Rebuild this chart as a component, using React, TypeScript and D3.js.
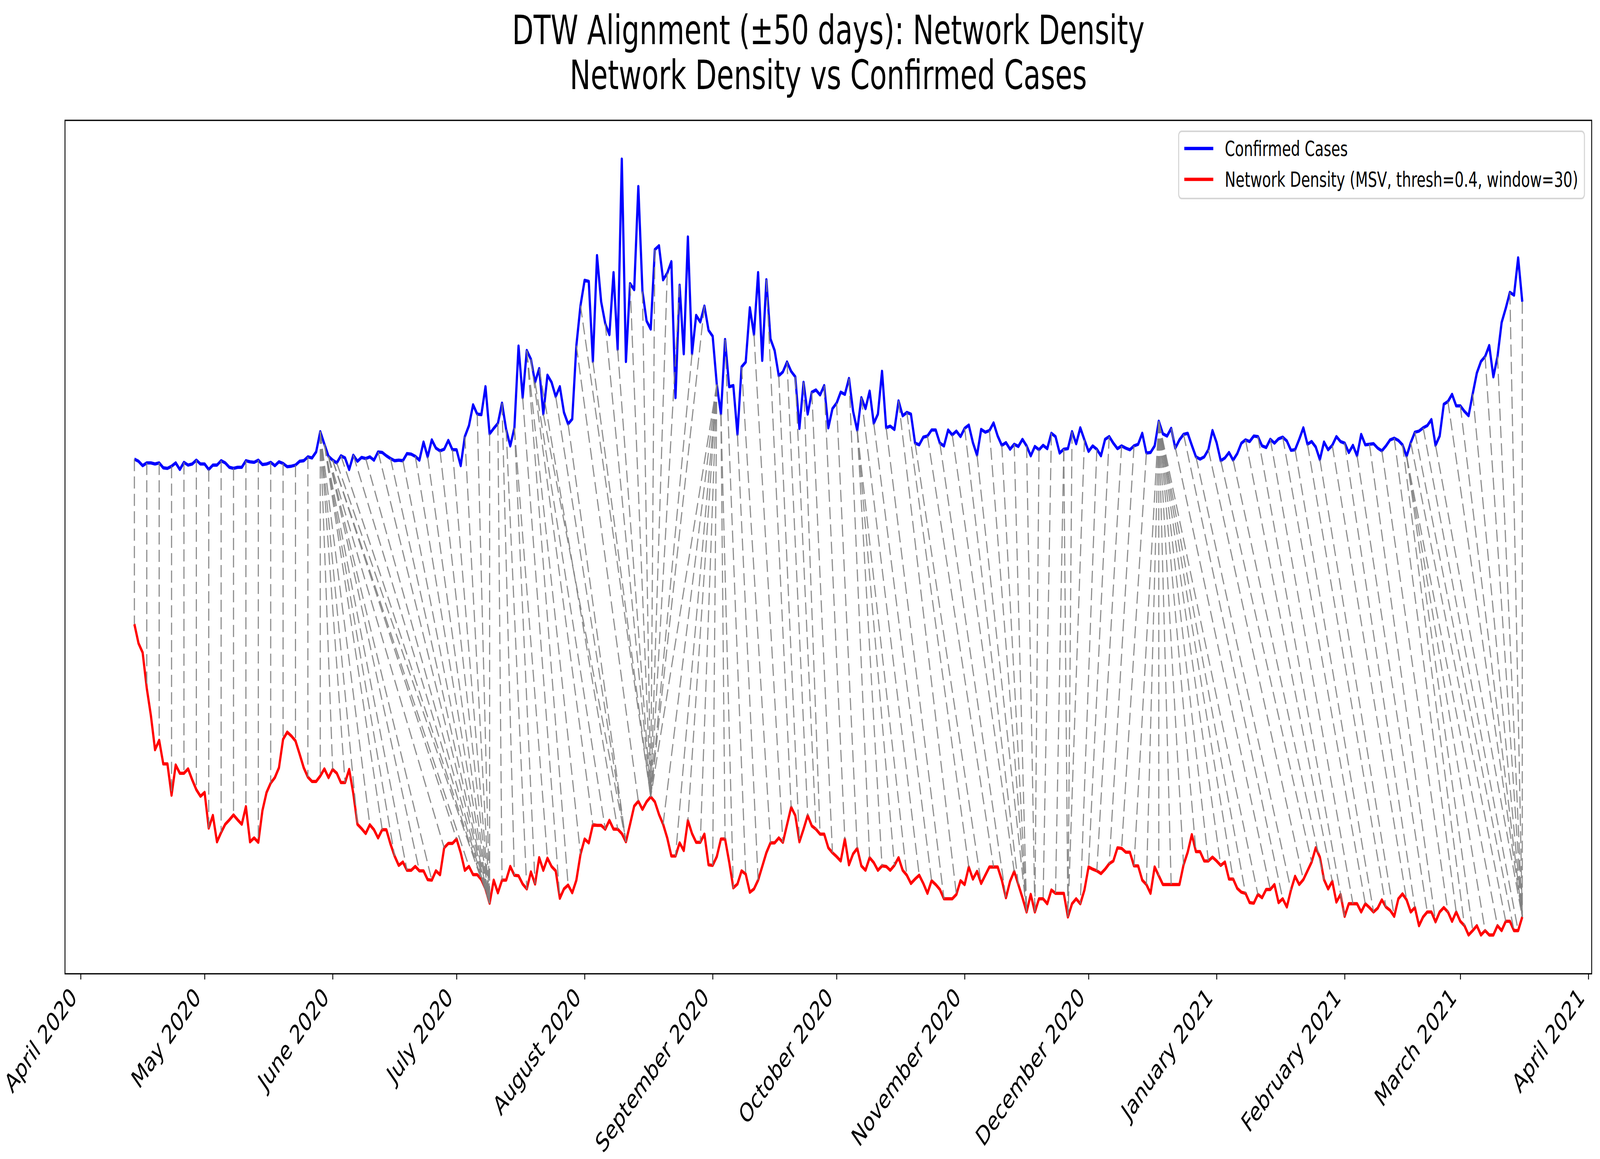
import React, { useEffect, useRef } from "react";
import * as d3 from "d3";

// Daily values (scaled units), 14 Apr 2020 .. 16 Mar 2021
const START_DATE = "2020-04-14";

const confirmedCases = [
    8.98, 8.94, 8.86, 8.91, 8.91, 8.89, 8.91, 8.82, 8.81, 8.85,
    8.91, 8.79, 8.92, 8.87, 8.89, 8.96, 8.89, 8.89, 8.79, 8.87,
    8.87, 8.95, 8.91, 8.83, 8.81, 8.83, 8.83, 8.95, 8.93, 8.92,
    8.96, 8.88, 8.89, 8.92, 8.86, 8.93, 8.9, 8.84, 8.85, 8.87,
    8.94, 8.95, 9.02, 9.0, 9.11, 9.48, 9.25, 9.03, 8.96, 8.91,
    9.04, 9.0, 8.79, 9.05, 8.94, 9.01, 8.99, 9.02, 8.96, 9.11,
    9.1, 9.04, 8.99, 8.95, 8.96, 8.95, 9.08, 9.07, 9.03, 8.96,
    9.29, 9.02, 9.33, 9.18, 9.13, 9.16, 9.32, 9.15, 9.15, 8.86,
    9.39, 9.59, 9.97, 9.8, 9.79, 10.3, 9.44, 9.54, 9.63, 10.0,
    9.52, 9.22, 9.55, 11.04, 10.1, 10.96, 10.8, 10.38, 10.63, 9.8,
    10.51, 10.38, 10.12, 10.3, 9.83, 9.62, 9.71, 11.05, 11.78, 12.24,
    12.22, 10.76, 12.69, 11.85, 11.45, 11.25, 12.38, 10.98, 14.45, 10.76,
    12.18, 12.07, 13.95, 12.04, 11.5, 11.35, 12.8, 12.87, 12.25, 12.37,
    12.58, 10.1, 12.15, 10.9, 13.03, 10.9, 11.6, 11.48, 11.77, 11.33,
    11.22, 10.34, 9.8, 11.16, 10.3, 10.32, 9.43, 10.66, 10.75, 11.74,
    11.25, 12.38, 10.78, 12.25, 11.17, 10.96, 10.5, 10.57, 10.75, 10.58,
    10.48, 9.54, 10.38, 9.8, 10.2, 10.24, 10.15, 10.32, 9.55, 9.9,
    10.0, 10.2, 10.16, 10.45, 9.85, 9.5, 10.1, 9.9, 10.22, 9.63,
    9.8, 10.58, 9.55, 9.58, 9.52, 10.04, 9.77, 9.83, 9.8, 9.27,
    9.24, 9.38, 9.4, 9.51, 9.51, 9.27, 9.22, 9.51, 9.42, 9.49,
    9.39, 9.54, 9.6, 9.28, 9.05, 9.52, 9.47, 9.5, 9.64, 9.4,
    9.23, 9.28, 9.16, 9.25, 9.21, 9.34, 9.22, 9.04, 9.21, 9.15,
    9.23, 9.17, 9.45, 9.39, 9.09, 9.16, 9.17, 9.48, 9.26, 9.55,
    9.33, 9.12, 9.22, 9.16, 9.04, 9.34, 9.39, 9.27, 9.17, 9.22,
    9.18, 9.15, 9.22, 9.25, 9.45, 9.09, 9.1, 9.22, 9.67, 9.44,
    9.4, 9.54, 9.18, 9.33, 9.43, 9.45, 9.23, 9.02, 8.98, 9.02,
    9.15, 9.5, 9.28, 8.95, 9.0, 9.1, 8.96, 9.08, 9.27, 9.33,
    9.3, 9.4, 9.39, 9.22, 9.19, 9.34, 9.27, 9.35, 9.38, 9.31,
    9.14, 9.15, 9.34, 9.55, 9.25, 9.3, 9.2, 8.97, 9.29, 9.15,
    9.23, 9.39, 9.3, 9.27, 9.1, 9.23, 9.04, 9.43, 9.24, 9.25,
    9.26, 9.18, 9.13, 9.22, 9.33, 9.36, 9.32, 9.24, 9.03, 9.28,
    9.47, 9.49, 9.55, 9.59, 9.7, 9.23, 9.4, 9.98, 10.03, 10.16,
    9.95, 9.95, 9.85, 9.77, 10.17, 10.55, 10.76, 10.85, 11.05, 10.48,
    10.85, 11.47, 11.73, 12.02, 11.97, 12.65, 11.85,
];

const networkDensity = [
    5.97, 5.62, 5.45, 4.8, 4.3, 3.68, 3.85, 3.42, 3.42, 2.85,
    3.4, 3.25, 3.25, 3.33, 3.13, 2.95, 2.83, 2.9, 2.25, 2.48,
    2.0, 2.17, 2.32, 2.4, 2.49, 2.4, 2.32, 2.64, 2.0, 2.07,
    1.99, 2.57, 2.9, 3.07, 3.17, 3.35, 3.87, 4.0, 3.93, 3.84,
    3.6, 3.35, 3.18, 3.1, 3.1, 3.2, 3.33, 3.17, 3.32, 3.25,
    3.08, 3.08, 3.32, 2.88, 2.32, 2.24, 2.15, 2.31, 2.22, 2.07,
    2.22, 2.22, 1.96, 1.74, 1.57, 1.63, 1.48, 1.48, 1.55, 1.47,
    1.47, 1.31, 1.3, 1.47, 1.4, 1.89, 1.97, 1.97, 2.05, 1.8,
    1.48, 1.55, 1.4, 1.4, 1.31, 1.14, 0.88, 1.3, 1.07, 1.3,
    1.3, 1.55, 1.39, 1.38, 1.23, 1.14, 1.45, 1.23, 1.71, 1.48,
    1.7, 1.55, 1.47, 0.97, 1.14, 1.21, 1.07, 1.3, 1.77, 2.05,
    1.98, 2.31, 2.3, 2.3, 2.23, 2.39, 2.23, 2.23, 2.15, 2.0,
    2.32, 2.65, 2.74, 2.59, 2.73, 2.82, 2.73, 2.5, 2.32, 2.07,
    1.74, 1.74, 1.98, 1.84, 2.39, 2.15, 1.99, 1.99, 2.14, 1.58,
    1.57, 1.73, 2.05, 2.05, 1.63, 1.16, 1.23, 1.47, 1.41, 1.08,
    1.14, 1.3, 1.55, 1.8, 1.98, 1.98, 2.07, 1.99, 2.31, 2.63,
    2.48, 2.0, 2.23, 2.48, 2.29, 2.23, 2.14, 2.14, 1.89, 1.8,
    1.73, 1.65, 2.05, 1.58, 1.78, 1.88, 1.56, 1.48, 1.71, 1.62,
    1.48, 1.56, 1.55, 1.48, 1.57, 1.71, 1.48, 1.39, 1.24, 1.32,
    1.39, 1.24, 1.06, 1.29, 1.22, 1.13, 0.96, 0.96, 0.96, 1.04,
    1.29, 1.22, 1.54, 1.32, 1.46, 1.24, 1.39, 1.54, 1.54, 1.54,
    1.3, 0.98, 1.28, 1.46, 1.22, 0.98, 0.72, 1.04, 0.72, 0.96,
    0.96, 0.87, 1.12, 1.06, 1.06, 1.06, 0.63, 0.87, 0.96, 0.87,
    1.12, 1.54, 1.5, 1.47, 1.42, 1.5, 1.6, 1.65, 1.89, 1.88,
    1.81, 1.81, 1.56, 1.56, 1.3, 1.22, 1.06, 1.54, 1.38, 1.22,
    1.22, 1.22, 1.22, 1.22, 1.58, 1.81, 2.13, 1.82, 1.82, 1.65,
    1.65, 1.72, 1.65, 1.57, 1.63, 1.32, 1.32, 1.15, 1.08, 1.06,
    0.89, 0.88, 1.04, 0.98, 1.13, 1.13, 1.22, 0.89, 0.96, 0.81,
    1.12, 1.37, 1.22, 1.31, 1.47, 1.63, 1.89, 1.72, 1.31, 1.14,
    1.28, 0.9, 1.04, 0.64, 0.87, 0.87, 0.87, 0.72, 0.87, 0.8,
    0.72, 0.79, 0.94, 0.81, 0.75, 0.64, 0.96, 1.05, 0.94, 0.72,
    0.8, 0.47, 0.63, 0.72, 0.72, 0.54, 0.72, 0.8, 0.72, 0.55,
    0.72, 0.55, 0.47, 0.3, 0.38, 0.47, 0.3, 0.38, 0.3, 0.3,
    0.47, 0.38, 0.55, 0.55, 0.38, 0.38, 0.63,
];

// DTW warping path, every 3rd step: [confirmed-cases day, network-density day]
const alignmentPairs: [number, number][] = [
    [0, 0], [3, 3], [6, 6], [9, 9], [12, 12], [15, 15], [18, 18], [21, 21],
    [24, 24], [27, 27], [30, 30], [33, 33], [36, 36], [39, 39], [42, 42], [45, 45],
    [45, 48], [45, 51], [45, 54], [45, 57], [46, 60], [46, 63], [46, 66], [47, 69],
    [47, 72], [47, 75], [48, 78], [48, 81], [49, 84],
    [50, 86], [53, 86], [56, 86], [59, 86], [62, 86], [65, 86], [68, 86], [71, 86],
    [74, 86], [77, 86], [80, 86], [83, 86], [86, 86],
    [88, 89], [89, 92], [90, 95], [92, 97], [92, 100], [94, 103], [95, 105], [95, 108],
    [96, 111], [97, 114], [98, 117], [99, 119], [102, 119], [105, 119], [107, 122],
    [108, 125], [111, 125], [114, 125], [117, 125], [120, 125], [123, 125], [126, 125],
    [129, 125], [132, 125], [135, 125], [138, 125], [141, 125],
    [141, 128], [141, 131], [141, 134], [141, 137], [141, 140], [142, 143], [142, 145],
    [143, 148], [146, 151], [147, 154], [150, 157], [153, 159], [156, 161], [158, 163],
    [160, 165], [162, 166], [164, 169], [167, 172], [170, 175], [173, 178], [175, 181],
    [175, 184], [175, 187], [176, 190], [179, 193], [182, 196], [185, 199], [187, 202],
    [189, 205], [192, 208], [195, 211], [198, 213], [201, 214], [204, 216], [207, 216],
    [210, 216], [213, 216], [216, 218], [219, 218], [222, 220], [225, 223], [225, 226],
    [227, 226], [230, 226], [233, 229], [236, 231], [239, 233], [242, 236], [245, 239],
    [248, 242], [248, 245], [248, 248], [248, 251], [248, 254], [248, 257], [248, 260],
    [248, 263], [248, 266], [248, 269], [248, 272],
    [251, 275], [254, 278], [257, 280], [260, 283], [263, 285], [266, 288], [269, 290],
    [272, 293], [275, 295], [278, 298], [281, 300], [284, 303], [287, 305], [290, 308],
    [293, 310], [296, 313], [299, 315], [302, 318], [305, 320], [307, 322],
    [308, 324], [308, 327], [308, 330], [309, 332], [310, 334], [312, 335], [315, 336],
    [318, 336], [321, 336], [324, 336], [327, 336], [330, 336], [333, 336], [336, 336],
];

const monthTicks = [
    "2020-04-01", "2020-05-01", "2020-06-01", "2020-07-01", "2020-08-01",
    "2020-09-01", "2020-10-01", "2020-11-01", "2020-12-01", "2021-01-01",
    "2021-02-01", "2021-03-01", "2021-04-01",
];

const titleLines = [
    "DTW Alignment (±50 days): Network Density",
    "Network Density vs Confirmed Cases",
];

const legendLabels = [
    "Confirmed Cases",
    "Network Density (MSV, thresh=0.4, window=30)",
];

const WIDTH = 5958;
const HEIGHT = 2966;

const DtwAlignmentChart: React.FC = () => {
    const svgRef = useRef<SVGSVGElement | null>(null);

    useEffect(() => {
        const plot = { left: 242, right: 5927, top: 308, bottom: 2492 };
        const font = "'DejaVu Sans', 'Liberation Sans', sans-serif";

        const svg = d3.select(svgRef.current);
        svg.selectAll("*").remove();

        svg.append("rect")
            .attr("width", WIDTH)
            .attr("height", HEIGHT)
            .attr("fill", "#ffffff");

        // Scales (matplotlib style 5% margins)
        const parse = d3.utcParse("%Y-%m-%d");
        const start = parse(START_DATE)!;
        const dayToDate = (i: number) => d3.utcDay.offset(start, i);
        const end = dayToDate(confirmedCases.length - 1);
        const span = end.getTime() - start.getTime();

        const x = d3
            .scaleUtc()
            .domain([
                new Date(start.getTime() - 0.05 * span),
                new Date(end.getTime() + 0.05 * span),
            ])
            .range([plot.left, plot.right]);

        const allValues = [...confirmedCases, ...networkDensity];
        const lo = d3.min(allValues)!;
        const hi = d3.max(allValues)!;
        const pad = (hi - lo) * 0.05;
        const y = d3
            .scaleLinear()
            .domain([lo - pad, hi + pad])
            .range([plot.bottom, plot.top]);

        // Series
        const line = d3
            .line<number>()
            .x((_, i) => x(dayToDate(i)))
            .y((v) => y(v));

        svg.append("path")
            .datum(confirmedCases)
            .attr("d", line)
            .attr("fill", "none")
            .attr("stroke", "#0000ff")
            .attr("stroke-width", 8.3)
            .attr("stroke-linejoin", "round");

        svg.append("path")
            .datum(networkDensity)
            .attr("d", line)
            .attr("fill", "none")
            .attr("stroke", "#ff0000")
            .attr("stroke-width", 8.3)
            .attr("stroke-linejoin", "round");

        // Alignment connectors
        svg.append("g")
            .selectAll("line")
            .data(alignmentPairs)
            .join("line")
            .attr("x1", (d) => x(dayToDate(d[0])))
            .attr("y1", (d) => y(confirmedCases[d[0]]))
            .attr("x2", (d) => x(dayToDate(d[1])))
            .attr("y2", (d) => y(networkDensity[d[1]]))
            .attr("stroke", "#808080")
            .attr("stroke-opacity", 0.9)
            .attr("stroke-width", 4.2)
            .attr("stroke-dasharray", "31 13.5");

        // Frame
        svg.append("rect")
            .attr("x", plot.left)
            .attr("y", plot.top)
            .attr("width", plot.right - plot.left)
            .attr("height", plot.bottom - plot.top)
            .attr("fill", "none")
            .attr("stroke", "#000")
            .attr("stroke-width", 3.3);

        // X axis
        const fmt = d3.utcFormat("%B %Y");
        const xAxis = d3
            .axisBottom(x)
            .tickValues(monthTicks.map((s) => parse(s)!))
            .tickFormat((d) => fmt(d as Date))
            .tickSize(14.6)
            .tickSizeOuter(0);

        const gx = svg.append("g")
            .attr("transform", `translate(0,${plot.bottom})`)
            .call(xAxis);
        gx.attr("font-size", null).attr("font-family", null);
        gx.select(".domain").remove();
        gx.selectAll(".tick line")
            .attr("stroke", "#000")
            .attr("stroke-width", 3.3);
        gx.selectAll(".tick text")
            .attr("y", 0)
            .attr("dy", null)
            .attr("fill", "#000")
            .attr("text-anchor", "end")
            .attr("transform", "translate(-11,64) rotate(-45)")
            .style("font-family", font)
            .style("font-size", "67px");

        // Title
        const cx = (plot.left + plot.right) / 2;
        svg.append("g")
            .selectAll("text")
            .data(titleLines)
            .join("text")
            .attr("x", cx)
            .attr("y", (_, i) => 113 + i * 115)
            .attr("text-anchor", "middle")
            .style("font-family", font)
            .style("font-size", "104px")
            .attr("fill", "#000")
            .text((d) => d);

        // Legend
        const legend = svg.append("g");
        legend.append("rect")
            .attr("x", 4389)
            .attr("y", 336)
            .attr("width", 1511)
            .attr("height", 172)
            .attr("rx", 11)
            .attr("fill", "#ffffff")
            .attr("fill-opacity", 0.8)
            .attr("stroke", "#d6d6d6")
            .attr("stroke-width", 4);

        const legendColors = ["#0000ff", "#ff0000"];
        legendLabels.forEach((label, i) => {
            const ly = 380 + i * 79;
            legend.append("line")
                .attr("x1", 4410)
                .attr("x2", 4518)
                .attr("y1", ly)
                .attr("y2", ly)
                .attr("stroke", legendColors[i])
                .attr("stroke-width", 8.3);
            legend.append("text")
                .attr("x", 4561)
                .attr("y", ly + 19)
                .style("font-family", font)
                .style("font-size", "54px")
                .attr("fill", "#000")
                .text(label);
        });
    }, []);

    // The drawing is laid out in 5958x2966 units and stretched to the window
    return (
        <svg
            ref={svgRef}
            viewBox={`0 0 ${WIDTH} ${HEIGHT}`}
            preserveAspectRatio="none"
            style={{
                position: "absolute",
                left: 0,
                top: 0,
                width: "100vw",
                height: "100vh",
                display: "block",
            }}
        />
    );
};

export default function App() {
    return <DtwAlignmentChart />;
}
